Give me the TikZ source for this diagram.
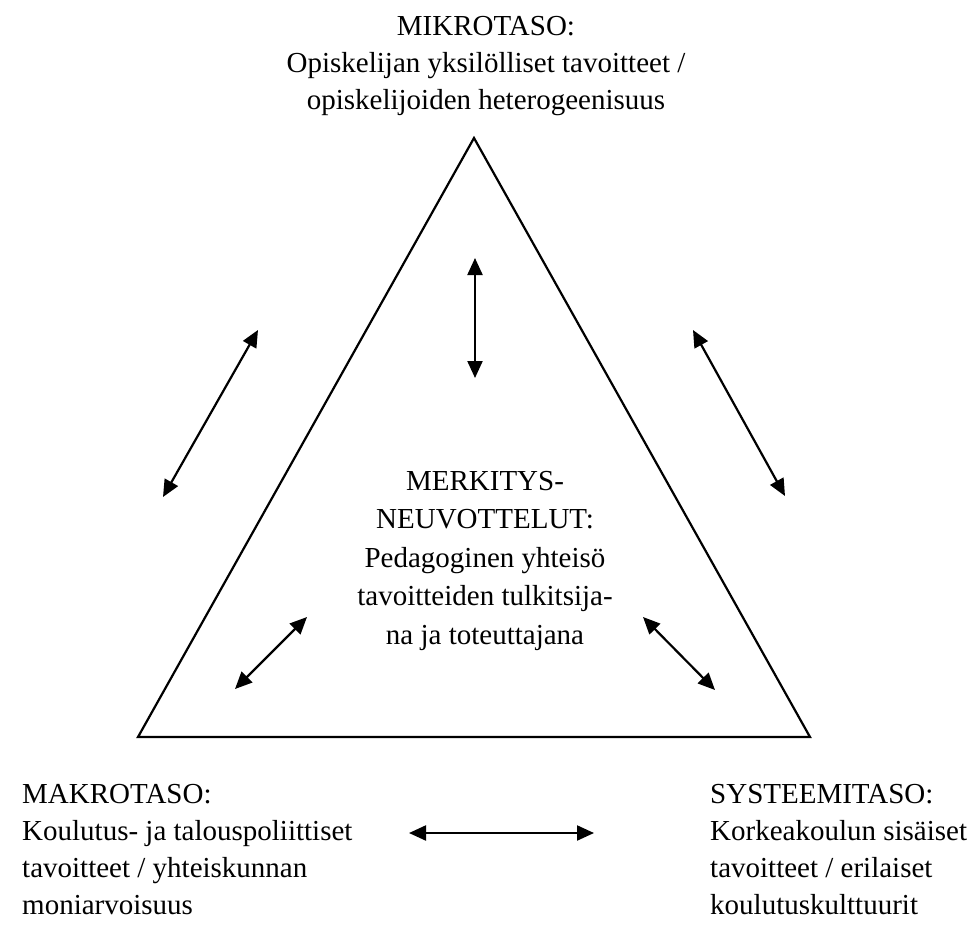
\documentclass[tikz,border=0pt]{standalone}
\usepackage{fontspec}
\setmainfont{Liberation Serif}
\usetikzlibrary{arrows.meta}
\begin{document}
\begin{tikzpicture}[x=1pt,y=-1pt,
  level/.style={inner sep=0pt, font=\fontsize{29}{37}\selectfont, align=center, anchor=north},
  levelleft/.style={level, align=left, anchor=north west},
  link/.style={line width=2.2pt, {Triangle[length=17pt,width=15pt]}-{Triangle[length=17pt,width=15pt]}},
  frame/.style={line width=2.2pt, line join=miter}]
\useasboundingbox (0,0) rectangle (977,924);

% the triangle of the three levels
\coordinate (apex) at (474,138);
\coordinate (bl) at (138,737);
\coordinate (br) at (810,737);
\draw[frame] (apex) -- (bl) -- (br) -- cycle;

% level texts
\node[level] (mikro) at (486,16)
  {MIKROTASO:\\Opiskelijan yksilölliset tavoitteet /\\opiskelijoiden heterogeenisuus};
\node[level, font=\fontsize{29}{38.5}\selectfont] (merkitys) at (485,471)
  {MERKITYS-\\NEUVOTTELUT:\\Pedagoginen yhteisö\\tavoitteiden tulkitsija-\\na ja toteuttajana};
\node[levelleft] (makro) at (22,784)
  {MAKROTASO:\\Koulutus- ja talouspoliittiset\\tavoitteet / yhteiskunnan\\moniarvoisuus};
\node[levelleft] (systeemi) at (710,784)
  {SYSTEEMITASO:\\Korkeakoulun sisäiset\\tavoitteet / erilaiset\\koulutuskulttuurit};

% ends of the two-way arrows
\coordinate (la) at (163,497);  \coordinate (lb) at (258,330);
\coordinate (ta) at (475,258);  \coordinate (tb) at (475,378);
\coordinate (ra) at (693,330);  \coordinate (rb) at (785,496);
\coordinate (ia) at (235,689);  \coordinate (ib) at (307,617);
\coordinate (ja) at (643,617);  \coordinate (jb) at (715,690);
\coordinate (ha) at (409,833);  \coordinate (hb) at (594,833);

\draw[link] (la) -- (lb);
\draw[link] (ta) -- (tb);
\draw[link] (ra) -- (rb);
\draw[link] (ia) -- (ib);
\draw[link] (ja) -- (jb);
\draw[link] (ha) -- (hb);
\end{tikzpicture}
\end{document}
